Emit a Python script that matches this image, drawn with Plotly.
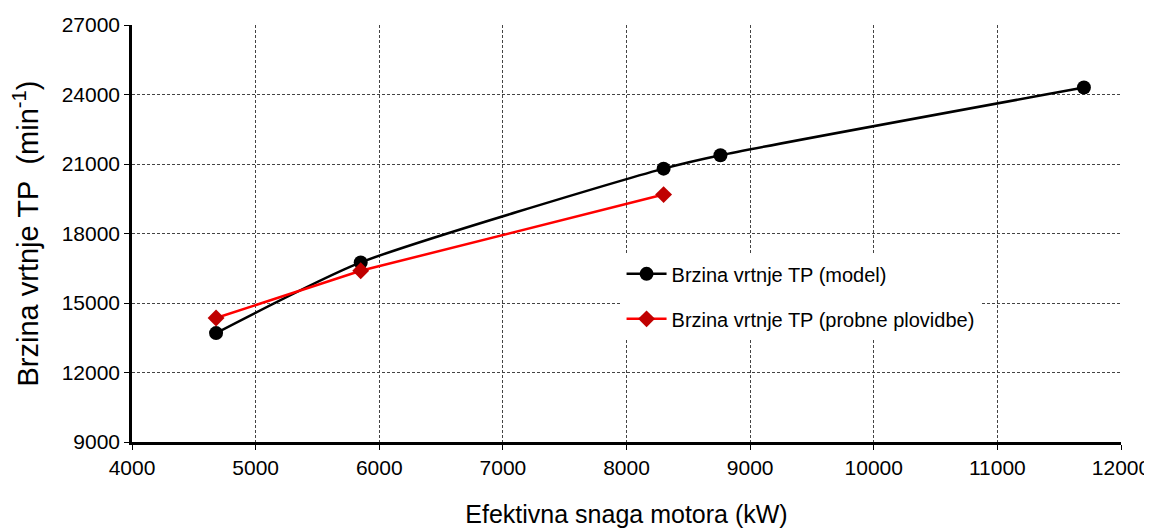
import plotly.graph_objects as go

model_x = [4680, 5850, 8300, 8760, 11700]
model_y = [13700, 16750, 20800, 21380, 24300]
trial_x = [4680, 5850, 8300]
trial_y = [14350, 16390, 19680]

x_ticks = [4000, 5000, 6000, 7000, 8000, 9000, 10000, 11000, 12000]
y_ticks = [9000, 12000, 15000, 18000, 21000, 24000, 27000]

font = "Liberation Sans"

fig = go.Figure()
fig.add_trace(go.Scatter(
    x=model_x, y=model_y, mode="lines+markers", name="Brzina vrtnje TP (model)",
    line=dict(color="black", width=2.5, shape="spline", smoothing=0.6),
    marker=dict(symbol="circle", size=14, color="black"),
    legendgroup="a",
))
fig.add_trace(go.Scatter(
    x=trial_x, y=trial_y, mode="lines+markers", name="Brzina vrtnje TP (probne plovidbe)",
    line=dict(color="#FF0000", width=2.5),
    marker=dict(symbol="diamond", size=13, color="#C00000"),
    legendgroup="b",
))

grid = dict(showgrid=True, gridcolor="#444444", griddash="3px,2px", gridwidth=1)
fig.update_xaxes(
    range=[4000, 12000], tickvals=x_ticks, ticktext=[str(v) for v in x_ticks],
    showline=True, linecolor="black", linewidth=2.5, ticks="outside", ticklen=5,
    tickcolor="black", tickfont=dict(size=21, family=font, color="black"),
    title=dict(text="Efektivna snaga motora (kW)", font=dict(size=25, family=font, color="black"), standoff=28),
    zeroline=False, automargin=False, **grid,
)
fig.update_yaxes(
    range=[9000, 27000], tickvals=y_ticks, ticktext=[str(v) for v in y_ticks],
    showline=True, linecolor="black", linewidth=2.5, ticks="outside", ticklen=5,
    tickcolor="black", tickfont=dict(size=21, family=font, color="black"),
    title=dict(text="Brzina vrtnje TP&nbsp;&nbsp;(min<sup>-1</sup>)", font=dict(size=29, family=font, color="black"), standoff=24),
    zeroline=False, automargin=False, **grid,
)
fig.update_layout(
    width=1144, height=522,
    margin=dict(l=124, r=31, t=17, b=88),
    paper_bgcolor="white", plot_bgcolor="white",
    font=dict(family=font, color="black"),
    legend=dict(
        x=0.495, y=0.45, xanchor="left", yanchor="top",
        bgcolor="white", borderwidth=0,
        font=dict(size=20, family=font, color="black"),
        tracegroupgap=16, itemwidth=40,
    ),
)
fig.write_html("out.html")
